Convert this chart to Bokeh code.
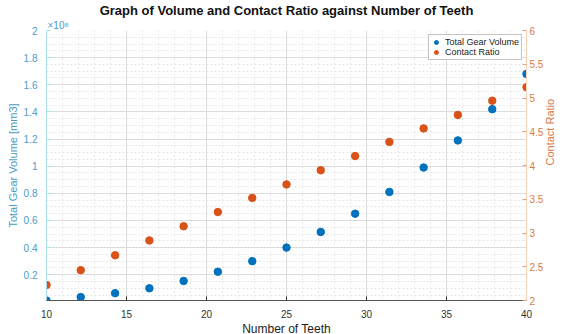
import math
from bokeh.plotting import figure
from bokeh.models import (Range1d, LinearAxis, FixedTicker, NumeralTickFormatter,
                          Legend, LegendItem, Title, ColumnDataSource)
from bokeh.embed import file_html
from bokeh.resources import INLINE

# data
teeth = [10, 12.14, 14.29, 16.43, 18.57, 20.71, 22.86, 25, 27.14, 29.29, 31.43, 33.57, 35.71, 37.86, 40]
volume_e8 = [0.01, 0.035, 0.064, 0.10, 0.154, 0.222, 0.30, 0.40, 0.515, 0.65, 0.81, 0.99, 1.19, 1.42, 1.68]
contact_ratio = [2.23, 2.45, 2.67, 2.89, 3.10, 3.31, 3.52, 3.72, 3.93, 4.14, 4.35, 4.55, 4.75, 4.96, 5.16]
x_ticks = [10, 15, 20, 25, 30, 35, 40]
left_ticks = [0.2, 0.4, 0.6, 0.8, 1, 1.2, 1.4, 1.6, 1.8, 2]
right_ticks = [2, 2.5, 3, 3.5, 4, 4.5, 5, 5.5, 6]

BLUE = "#0072BD"
ORANGE = "#D95319"
BLUE_TXT = "#4a9cc7"
ORANGE_TXT = "#d97a45"
FONT = "Liberation Sans"

src = ColumnDataSource(dict(x=teeth, v=volume_e8, c=contact_ratio))

p = figure(frame_width=480, frame_height=270, output_backend="svg", toolbar_location=None,
           x_range=Range1d(10, 40), y_range=Range1d(0.01, 2),
           min_border_left=46, min_border_right=36, min_border_top=25, min_border_bottom=35)
p.extra_y_ranges = {"cr": Range1d(2, 6)}

p.title.text = ""
exp_title = Title(text="×10⁸", align="left", offset=1, standoff=0, text_font=FONT,
                  text_font_size="10px", text_font_style="normal", text_color=BLUE_TXT)
main_title = Title(text="Graph of Volume and Contact Ratio against Number of Teeth",
                   align="center", standoff=0, text_font=FONT, text_font_size="13px",
                   text_font_style="bold", text_color="#111111")
p.add_layout(exp_title, "above")
p.add_layout(main_title, "above")

p.background_fill_color = "white"
p.border_fill_color = "white"
p.outline_line_color = None

# grids
for g in (p.xgrid, p.ygrid):
    g.grid_line_color = "#dcdcdc"
    g.grid_line_width = 1
    g.minor_grid_line_color = "#e6e6e6"
    g.minor_grid_line_dash = "2 2"

# x axis
xa = p.xaxis[0]
xa.ticker = FixedTicker(ticks=x_ticks, minor_ticks=list(range(10, 41)))
xa.axis_label = "Number of Teeth"
xa.axis_line_color = "#555555"
xa.major_tick_line_color = "#333333"
xa.major_tick_in = 4
xa.major_tick_out = 0
xa.minor_tick_line_color = None
xa.major_label_text_font = FONT
xa.major_label_text_font_size = "10px"
xa.major_label_text_color = "#333333"
xa.axis_label_text_font = FONT
xa.axis_label_text_font_size = "12px"
xa.axis_label_text_font_style = "normal"
xa.axis_label_text_color = "#222222"
xa.major_label_standoff = 5
xa.axis_label_standoff = 1

# left axis
ya = p.yaxis[0]
minor_left = [round(0.05 * i, 2) for i in range(0, 41)]
ya.ticker = FixedTicker(ticks=left_ticks, minor_ticks=minor_left)
ya.formatter = NumeralTickFormatter(format="0.[0]")
ya.axis_label = "Total Gear Volume [mm3]"
ya.axis_line_color = "#a8e0f0"
ya.major_tick_line_color = "#a8e0f0"
ya.major_tick_in = 4
ya.major_tick_out = 0
ya.minor_tick_line_color = None
ya.major_label_text_font = FONT
ya.major_label_text_font_size = "10px"
ya.major_label_text_color = BLUE_TXT
ya.axis_label_text_font = FONT
ya.axis_label_text_font_size = "11px"
ya.axis_label_text_font_style = "normal"
ya.axis_label_text_color = BLUE_TXT
ya.major_label_standoff = 5
ya.axis_label_standoff = 2

# right axis
ra = LinearAxis(y_range_name="cr")
ra.ticker = FixedTicker(ticks=right_ticks)
ra.formatter = NumeralTickFormatter(format="0.[0]")
ra.axis_label = "Contact Ratio"
ra.axis_label_orientation = math.pi / 2
ra.axis_line_color = "#f6d2b8"
ra.major_tick_line_color = "#e8a27a"
ra.major_tick_in = 4
ra.major_tick_out = 0
ra.minor_tick_line_color = None
ra.major_label_text_font = FONT
ra.major_label_text_font_size = "10px"
ra.major_label_text_color = ORANGE_TXT
ra.axis_label_text_font = FONT
ra.axis_label_text_font_size = "11px"
ra.axis_label_text_font_style = "normal"
ra.axis_label_text_color = ORANGE_TXT
ra.major_label_standoff = 3
ra.axis_label_standoff = 4
p.add_layout(ra, "right")

r1 = p.scatter("x", "v", source=src, size=7.5, color=BLUE)
r2 = p.scatter("x", "c", source=src, size=7.5, color=ORANGE, y_range_name="cr")

legend = Legend(items=[LegendItem(label="Total Gear Volume", renderers=[r1]),
                       LegendItem(label="Contact Ratio", renderers=[r2])],
                location="top_right")
legend.label_text_font = FONT
legend.label_text_font_size = "9px"
legend.label_text_color = "#222222"
legend.glyph_width = 10
legend.glyph_height = 10
legend.label_height = 10
legend.spacing = 0
legend.padding = 2
legend.margin = 4
legend.label_standoff = 4
legend.border_line_color = "#888888"
legend.background_fill_alpha = 1
p.add_layout(legend)

open("out.html", "w").write(file_html(p, INLINE))
